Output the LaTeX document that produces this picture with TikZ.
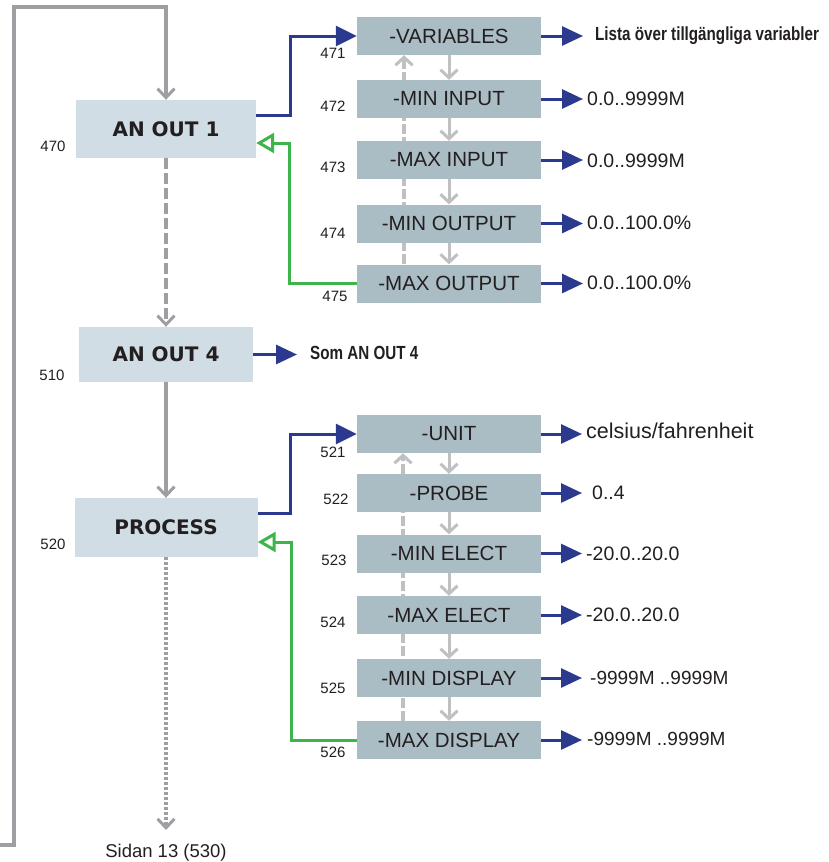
\documentclass[tikz,border=0pt]{standalone}
\usepackage{fontspec}
\setmainfont{Liberation Sans}
\newfontfamily\verd{DejaVu Sans}
\newfontfamily\narrowsans{Liberation Sans}[FakeStretch=0.8]
\usetikzlibrary{arrows.meta,backgrounds}

\definecolor{maingray}{HTML}{9D9FA2}
\definecolor{lightgray}{HTML}{BEC0C2}
\definecolor{navy}{HTML}{2B3A8E}
\definecolor{flowgreen}{HTML}{3DB54A}
\definecolor{boxlight}{HTML}{D1DDE5}
\definecolor{boxdark}{HTML}{AABCC4}
\definecolor{ink}{HTML}{231F20}

\tikzset{
  mainbox/.style={fill=boxlight, inner sep=0pt, text=ink,
    font=\verd\bfseries\fontsize{20}{24}\selectfont},
  subbox/.style={fill=boxdark, inner sep=0pt, minimum width=184pt, minimum height=38pt,
    text=ink, font=\fontsize{20.5}{24}\selectfont},
  numlabel/.style={text=ink, inner sep=0pt, font=\fontsize{15}{18}\selectfont},
  valtext/.style={anchor=west, text=ink, inner xsep=4pt, inner ysep=0pt,
    font=\fontsize{19.5}{22}\selectfont},
  notetext/.style={anchor=west, text=ink, inner xsep=12pt, inner ysep=0pt,
    font=\narrowsans\bfseries\fontsize{19}{22}\selectfont},
  mainflow/.style={draw=maingray, line width=3.5pt,
    -{Straight Barb[length=9pt, width=17pt, line width=3pt]}},
  stepdown/.style={draw=lightgray, line width=3pt,
    -{Straight Barb[length=8pt, width=17pt, line width=3pt]}},
  stepup/.style={draw=lightgray, line width=3.5pt, dash pattern=on 10pt off 3pt,
    -{Straight Barb[length=8pt, width=17pt, line width=3pt]}},
  enterlink/.style={draw=navy, line width=3pt,
    -{Triangle[length=21pt, width=20pt]}},
  valarrow/.style={draw=navy, line width=3pt,
    -{Triangle[length=21pt, width=19pt]}},
  backlink/.style={draw=flowgreen, line width=3pt,
    -{Triangle[open, length=18pt, width=20pt, line width=3pt, fill=white]}},
}

\begin{document}
\begin{tikzpicture}[x=1pt, y=-1pt]
\useasboundingbox (0,0) rectangle (829,862);

% main menu boxes
\node[mainbox, minimum width=180pt, minimum height=58pt] (an1) at (166,129) {AN OUT 1};
\node[mainbox, minimum width=174pt, minimum height=55pt] (an4) at (166,354.5) {AN OUT 4};
\node[mainbox, minimum width=183pt, minimum height=59pt] (proc) at (166,527.5) {PROCESS};

\node[numlabel] (n470) at (53,146) {470};
\node[numlabel] (n510) at (52,375) {510};
\node[numlabel] (n520) at (53,544) {520};

% AN OUT 1 sub menu
\node[subbox] (var)    at (449,36)    {-VARIABLES};
\node[subbox] (minin)  at (449,99)    {-MIN INPUT};
\node[subbox] (maxin)  at (449,160)   {-MAX INPUT};
\node[subbox] (minout) at (449,223.5) {-MIN OUTPUT};
\node[subbox] (maxout) at (449,283.5) {-MAX OUTPUT};

\node[numlabel] (n471) at (333,53)  {471};
\node[numlabel] (n472) at (333,106) {472};
\node[numlabel] (n473) at (333,167) {473};
\node[numlabel] (n474) at (333,233) {474};
\node[numlabel] (n475) at (335,296) {475};

% PROCESS sub menu
\node[subbox] (unit)   at (449,434)   {-UNIT};
\node[subbox] (probe)  at (449,493)   {-PROBE};
\node[subbox] (minel)  at (449,553.5) {-MIN ELECT};
\node[subbox] (maxel)  at (449,615)   {-MAX ELECT};
\node[subbox] (mindis) at (449,678)   {-MIN DISPLAY};
\node[subbox] (maxdis) at (449,740)   {-MAX DISPLAY};

\node[numlabel] (n521) at (333,452) {521};
\node[numlabel] (n522) at (336,499) {522};
\node[numlabel] (n523) at (334,560) {523};
\node[numlabel] (n524) at (333,622) {524};
\node[numlabel] (n525) at (333,688) {525};
\node[numlabel] (n526) at (333,752) {526};

% value texts
\node[notetext] (tvar)    at (583,36)  {Lista över tillgängliga variabler};
\node[valtext]  (tminin)  at (583,99)  {0.0..9999M};
\node[valtext]  (tmaxin)  at (583,161) {0.0..9999M};
\node[valtext]  (tminout) at (583,223) {0.0..100.0\%};
\node[valtext]  (tmaxout) at (583,283) {0.0..100.0\%};
\node[notetext, inner xsep=13pt] (tan4) at (297,353) {Som AN OUT 4};

\node[valtext, font=\fontsize{21.5}{24}\selectfont] (tunit) at (582,431) {celsius/fahrenheit};
\node[valtext, inner xsep=10pt] (tprobe)  at (582,493) {0..4};
\node[valtext] (tminel)  at (582,554) {-20.0..20.0};
\node[valtext] (tmaxel)  at (582,615) {-20.0..20.0};
\node[valtext, font=\fontsize{19}{22}\selectfont, inner xsep=8pt] (tmindis) at (582,678) {-9999M ..9999M};
\node[valtext, font=\fontsize{19}{22}\selectfont, inner xsep=5pt] (tmaxdis) at (582,739) {-9999M ..9999M};

% end of the chain
\coordinate (chainend) at (166,830);
\node[text=ink, inner sep=0pt, font=\fontsize{18.5}{22}\selectfont] (next) at (166,853) {Sidan 13 (530)};

% return loop from the bottom back to the top
\coordinate (loopin) at (0,845);
\coordinate (looptop) at (14,7);
\draw[mainflow] (loopin) -| (looptop) -| (an1.north);

% main chain
\draw[mainflow, dash pattern=on 11pt off 4pt] (an1.south) -- (an4.north);
\draw[mainflow] (an4.south) -- (proc.north);
\draw[mainflow, dash pattern=on 3pt off 2pt, line width=4pt] (proc.south) -- (chainend);

% entering and leaving the sub menus
\draw[enterlink] ([yshift=14pt]an1.east) -- ++(34,0) |- (var.west);
\draw[backlink] (maxout.west) -- ++(-67,0) |- ([yshift=-14pt]an1.east);
\draw[enterlink] ([yshift=14.5pt]proc.east) -- ++(33,0) |- (unit.west);
\draw[backlink] (maxdis.west) -- ++(-65,0) |- ([yshift=-14.5pt]proc.east);
\draw[valarrow] (an4.east) -- (an4.east -| tan4.west);

% stepping through the sub menus
\draw[stepdown] (var.south) -- (minin.north);
\draw[stepdown] (minin.south) -- (maxin.north);
\draw[stepdown] (maxin.south) -- (minout.north);
\draw[stepdown] (minout.south) -- (maxout.north);
\draw[stepdown] (unit.south) -- (probe.north);
\draw[stepdown] (probe.south) -- (minel.north);
\draw[stepdown] (minel.south) -- (maxel.north);
\draw[stepdown] (maxel.south) -- (mindis.north);
\draw[stepdown] (mindis.south) -- (maxdis.north);

\begin{scope}[on background layer]
  \draw[stepup] ([xshift=-45pt]maxout.north) -- ([xshift=-45pt]var.south);
  \draw[stepup] ([xshift=-46pt]maxdis.north) -- ([xshift=-46pt]unit.south);
\end{scope}

% value arrows
\draw[valarrow] (var.east)    -- (var.east -| tvar.west);
\draw[valarrow] (minin.east)  -- (minin.east -| tminin.west);
\draw[valarrow] (maxin.east)  -- (maxin.east -| tmaxin.west);
\draw[valarrow] (minout.east) -- (minout.east -| tminout.west);
\draw[valarrow] (maxout.east) -- (maxout.east -| tmaxout.west);
\draw[valarrow] (unit.east)   -- (unit.east -| tunit.west);
\draw[valarrow] (probe.east)  -- (probe.east -| tprobe.west);
\draw[valarrow] (minel.east)  -- (minel.east -| tminel.west);
\draw[valarrow] (maxel.east)  -- (maxel.east -| tmaxel.west);
\draw[valarrow] (mindis.east) -- (mindis.east -| tmindis.west);
\draw[valarrow] (maxdis.east) -- (maxdis.east -| tmaxdis.west);
\end{tikzpicture}
\end{document}
